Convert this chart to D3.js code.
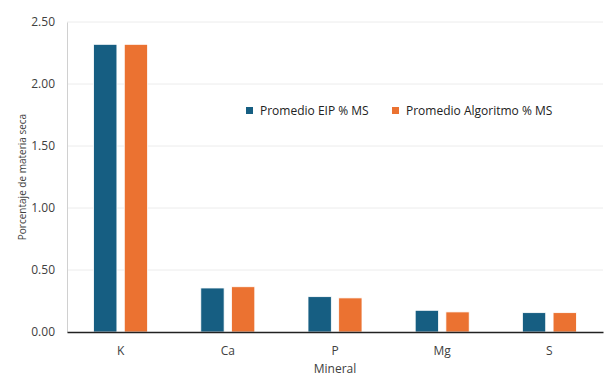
<!DOCTYPE html>
<html>
<head>
<meta charset="utf-8">
<script src="https://cdn.jsdelivr.net/npm/d3@7"></script>
<style>
  body { margin: 0; background: #fff; }
  text { font-family: "Open Sans", sans-serif; }
</style>
</head>
<body>
<div id="chart"></div>
<script>
// data
const minerals = ["K", "Ca", "P", "Mg", "S"];
const eip = [2.32, 0.355, 0.285, 0.175, 0.156];
const algoritmo = [2.32, 0.365, 0.275, 0.162, 0.156];
const seriesNames = ["Promedio EIP % MS", "Promedio Algoritmo % MS"];
const yTicks = [0, 0.5, 1, 1.5, 2, 2.5];

const colors = ["#165e82", "#eb7231"];

const width = 611, height = 380;
const margin = {top: 22, right: 8, bottom: 48, left: 67};
const innerW = width - margin.left - margin.right,
      innerH = height - margin.top - margin.bottom;

const svg = d3.select("#chart")
  .append("svg")
  .attr("width", width)
  .attr("height", height)
  .append("g")
  .attr("transform", `translate(${margin.left}, ${margin.top})`);

const x = d3.scaleBand()
  .domain(minerals)
  .range([0, innerW]);

const x1 = d3.scaleBand()
  .domain([0, 1])
  .range([x.bandwidth() / 2 - 27, x.bandwidth() / 2 + 27])
  .paddingInner(0.24);

const y = d3.scaleLinear()
  .domain([0, 2.5])
  .range([innerH, 0]);

// gridlines
svg.append("g")
  .selectAll("line")
  .data(yTicks.slice(1))
  .join("line")
    .attr("x1", 0)
    .attr("x2", innerW)
    .attr("y1", d => y(d))
    .attr("y2", d => y(d))
    .attr("stroke", "#ececec")
    .attr("stroke-width", 1);

// y axis
svg.append("g")
  .call(d3.axisLeft(y).tickValues(yTicks).tickFormat(d3.format(".2f")).tickSize(0).tickPadding(12))
  .call(g => g.select(".domain").attr("stroke", "#d0d0d0"))
  .call(g => g.selectAll("text").attr("font-size", 12).attr("fill", "#404040").attr("font-family", "Open Sans"));

// bars
const rows = minerals.map((m, i) => ({mineral: m, values: [eip[i], algoritmo[i]]}));

svg.append("g")
  .selectAll("g")
  .data(rows)
  .join("g")
    .attr("transform", d => `translate(${x(d.mineral)}, 0)`)
  .selectAll("rect")
  .data(d => d.values.map((v, k) => ({k, v})))
  .join("rect")
    .attr("x", d => x1(d.k))
    .attr("width", x1.bandwidth())
    .attr("y", d => y(d.v))
    .attr("height", d => y(0) - y(d.v))
    .attr("fill", d => colors[d.k])
    .attr("stroke", "#fff")
    .attr("stroke-width", 0.8);

// x axis
svg.append("g")
  .attr("transform", `translate(0, ${innerH})`)
  .call(d3.axisBottom(x).tickSize(0).tickPadding(14))
  .call(g => g.select(".domain").attr("stroke", "#222").attr("stroke-width", 1.3))
  .call(g => g.selectAll("text").attr("font-size", 12).attr("fill", "#404040").attr("font-family", "Open Sans"));

// axis titles
svg.append("text")
  .attr("x", innerW / 2)
  .attr("y", innerH + 41)
  .attr("text-anchor", "middle")
  .attr("font-size", 12)
  .attr("fill", "#404040")
  .text("Mineral");

svg.append("text")
  .attr("transform", `translate(${-margin.left + 26}, ${innerH / 2}) rotate(-90)`)
  .attr("text-anchor", "middle")
  .attr("font-size", 10)
  .attr("fill", "#404040")
  .text("Porcentaje de materia seca");

// legend
const legend = svg.append("g")
  .attr("transform", `translate(${246 - margin.left}, ${107 - margin.top})`);

const legendX = [0, 146];
legend.selectAll("rect")
  .data(seriesNames)
  .join("rect")
    .attr("x", (d, i) => legendX[i])
    .attr("y", 0)
    .attr("width", 7)
    .attr("height", 7)
    .attr("fill", (d, i) => colors[i]);

legend.selectAll("text")
  .data(seriesNames)
  .join("text")
    .attr("x", (d, i) => legendX[i] + 14)
    .attr("y", 8)
    .attr("font-size", 12)
    .attr("fill", "#222")
    .text(d => d);
</script>
</body>
</html>
